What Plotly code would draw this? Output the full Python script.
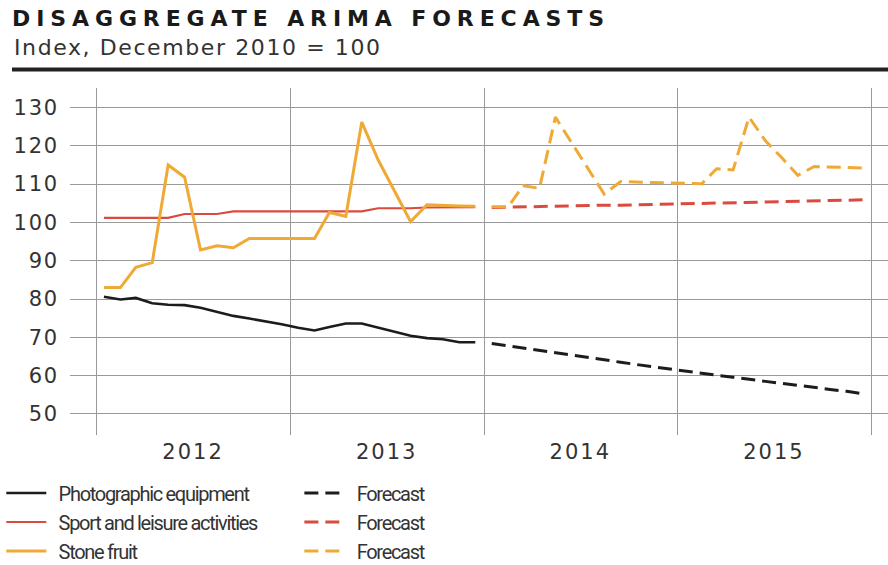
import pandas as pd
import plotly.graph_objects as go

# Monthly index values, December 2010 = 100
hist_months = pd.date_range("2012-01-01", periods=24, freq="MS") + pd.Timedelta(days=14)
fc_months = pd.date_range("2014-01-01", periods=24, freq="MS") + pd.Timedelta(days=14)

photo = [80.6, 79.9, 80.3, 78.9, 78.5, 78.4, 77.7, 76.6, 75.6, 74.9, 74.2, 73.4,
         72.5, 71.8, 72.7, 73.6, 73.6, 72.5, 71.4, 70.4, 69.8, 69.5, 68.7, 68.7]
photo_fc = [68.4, 67.8, 67.2, 66.6, 65.9, 65.3, 64.7, 64.1, 63.5, 62.9, 62.3, 61.7,
            61.1, 60.6, 60.1, 59.6, 59.0, 58.5, 58.0, 57.4, 56.9, 56.4, 55.9, 55.3]

sport = [101.2, 101.2, 101.2, 101.2, 101.2, 102.2, 102.2, 102.2, 102.9, 102.9, 102.9, 102.9,
         102.9, 102.9, 102.9, 102.9, 102.9, 103.7, 103.7, 103.7, 103.9, 103.9, 104.0, 104.0]
sport_fc = [103.9, 104.0, 104.0, 104.1, 104.2, 104.3, 104.4, 104.5, 104.5, 104.6, 104.7, 104.8,
            104.8, 104.9, 105.0, 105.1, 105.2, 105.3, 105.4, 105.5, 105.6, 105.7, 105.8, 105.9]

stone = [83.0, 83.0, 88.3, 89.5, 115.0, 111.8, 92.8, 93.9, 93.4, 95.8, 95.8, 95.8,
         95.8, 95.8, 102.6, 101.6, 126.2, 116.3, 108.4, 100.2, 104.6, 104.4, 104.3, 104.2]
stone_fc = [104.1, 104.1, 109.6, 108.9, 127.5, 120.8, 114.1, 107.4, 110.7, 110.5, 110.4, 110.3,
            110.2, 110.1, 114.0, 113.7, 127.5, 121.3, 117.0, 112.3, 114.6, 114.5, 114.4, 114.2]

series_names = ["Photographic equipment", "Sport and leisure activities", "Stone fruit"]
forecast_label = "Forecast"

y_ticks = [50, 60, 70, 80, 90, 100, 110, 120, 130]
year_labels = ["2012", "2013", "2014", "2015"]
year_mid = ["2012-07-01", "2013-07-01", "2014-07-01", "2015-07-01"]
year_edges = ["2012-01-01", "2013-01-01", "2014-01-01", "2015-01-01", "2016-01-01"]

BLACK = "#1c1c1c"
RED = "#da4b3f"
YELLOW = "#f0a935"
GRID = "#9a9a9a"
TEXT = "#333333"
TICK_FONT = dict(family="DejaVu Sans", size=21, color=TEXT)
LEG_FONT = dict(family="Roboto", size=20, color=TEXT)


def spaced(text, px):
    return f'<span style="letter-spacing:{px}px">{text}</span>'


def legend_name(text):
    # a little room after the swatch, and tighter letters for a condensed look
    return spaced("\u00a0\u00a0" + text, -1.3)


fig = go.Figure()
groups = [
    (series_names[0], photo, photo_fc, BLACK, 2.6),
    (series_names[1], sport, sport_fc, RED, 2.2),
    (series_names[2], stone, stone_fc, YELLOW, 3.0),
]
# actual series are listed in the left legend, forecasts in the right one
for name, hist, fc, color, w in groups:
    fig.add_trace(go.Scatter(x=hist_months, y=hist, mode="lines", name=legend_name(name),
                             line=dict(color=color, width=w), legend="legend"))
for name, hist, fc, color, w in groups:
    fig.add_trace(go.Scatter(x=fc_months, y=fc, mode="lines", name=legend_name(forecast_label),
                             line=dict(color=color, width=3.0, dash="14px,7px"),
                             legend="legend2"))

legend_common = dict(orientation="v", xanchor="left", y=-0.111, yanchor="top",
                     font=LEG_FONT, bgcolor="rgba(0,0,0,0)", traceorder="normal",
                     itemwidth=40, tracegroupgap=0)

fig.update_layout(
    width=888, height=565,
    margin=dict(l=70, r=0, t=88, b=130, autoexpand=False),
    paper_bgcolor="white", plot_bgcolor="white",
    showlegend=True,
    legend=dict(x=-0.084, **legend_common),
    legend2=dict(x=0.2804, **legend_common),
    title=dict(text=spaced("DISAGGREGATE ARIMA FORECASTS", 5.9),
               font=dict(family="DejaVu Sans", size=22, weight="bold", color="#1a1a1a"),
               xref="container", yref="container", x=12 / 888, xanchor="left",
               y=1 - 18 / 565, yanchor="middle"),
    annotations=[dict(text=spaced("Index, December 2010 = 100", 1.6),
                      xref="paper", yref="paper", x=(12 - 70) / 818, xanchor="left",
                      y=(435 - 48) / 347, yanchor="middle", showarrow=False,
                      font=dict(family="DejaVu Sans", size=22, color=TEXT))],
    shapes=[dict(type="line", xref="paper", yref="paper",
                 x0=(12 - 70) / 818, x1=1, y0=(435 - 69.5) / 347, y1=(435 - 69.5) / 347,
                 line=dict(color="#222222", width=4))],
)

fig.update_xaxes(
    type="date", range=["2011-11-12", "2016-02-01"],
    tickmode="array", tickvals=year_mid, ticktext=[spaced(t, 2) for t in year_labels],
    showgrid=False, zeroline=False, showline=False, ticks="",
    tickfont=TICK_FONT, ticklabelstandoff=2,
    minor=dict(tickmode="array", tickvals=year_edges, showgrid=True,
               gridcolor=GRID, gridwidth=1.3, ticks=""),
)
fig.update_yaxes(
    range=[44.5, 135.1], tickmode="array", tickvals=y_ticks,
    ticktext=[spaced(str(t), 1.8) for t in y_ticks],
    showgrid=True, gridcolor=GRID, gridwidth=1.3, zeroline=False, showline=False,
    ticks="", tickfont=TICK_FONT, ticklabelstandoff=10,
)

fig.write_html("out.html")
